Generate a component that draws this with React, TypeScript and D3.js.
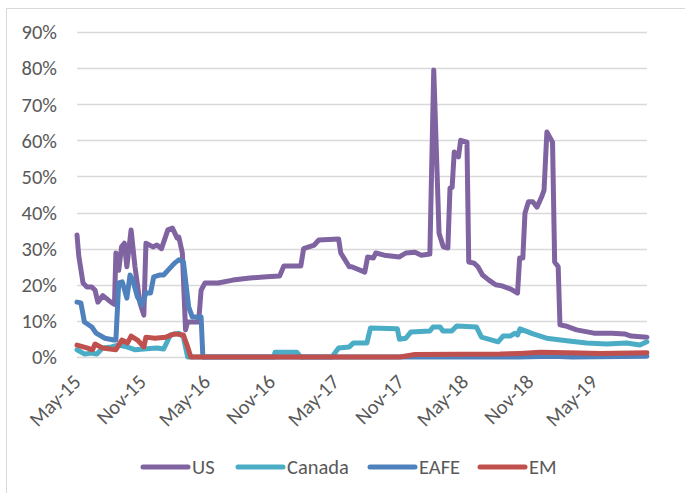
import React from "react";
import * as d3 from "d3";

const usDates = ["2015-05-01","2015-05-06","2015-05-18","2015-05-29","2015-06-12","2015-06-21","2015-06-29","2015-07-13","2015-07-22","2015-08-05","2015-08-15","2015-08-19","2015-08-27","2015-09-04","2015-09-12","2015-09-19","2015-10-01","2015-10-12","2015-10-26","2015-11-06","2015-11-12","2015-12-02","2015-12-13","2015-12-26","2016-01-13","2016-01-26","2016-02-08","2016-02-13","2016-02-23","2016-03-03","2016-03-09","2016-04-09","2016-04-16","2016-04-27","2016-06-03","2016-07-15","2016-09-01","2016-10-19","2016-11-24","2016-12-06","2017-01-23","2017-01-31","2017-03-02","2017-03-15","2017-05-10","2017-05-16","2017-06-09","2017-06-16","2017-07-23","2017-07-31","2017-08-16","2017-08-23","2017-09-16","2017-10-29","2017-11-16","2017-12-12","2017-12-30","2018-01-23","2018-02-03","2018-02-18","2018-03-02","2018-03-15","2018-03-21","2018-03-27","2018-04-02","2018-04-14","2018-04-20","2018-05-08","2018-05-13","2018-05-28","2018-06-08","2018-06-21","2018-07-09","2018-07-28","2018-08-15","2018-09-09","2018-09-28","2018-10-04","2018-10-13","2018-10-19","2018-10-29","2018-11-10","2018-11-22","2018-12-05","2018-12-12","2018-12-20","2019-01-05","2019-01-11","2019-01-21","2019-01-26","2019-02-11","2019-03-14","2019-05-02","2019-06-21","2019-07-28","2019-08-15","2019-09-29"];
const usValues = [33.8,28,20.5,19.4,19.4,18.5,15.2,17,16.3,15.2,14.6,28.8,24,30.5,31.5,25,35.2,25,15,11.6,31.5,30.5,31,30,35.2,35.7,33,33.2,28.8,7.5,9.7,9.7,18.5,20.5,20.5,21.3,21.9,22.2,22.4,25.2,25.2,30,31,32.4,32.7,28.8,25,25,23.5,27.7,27.4,28.8,28.2,27.7,28.8,29,28.2,28.5,79.5,34.3,30.5,30.2,46.8,47,56.8,55.4,60,59.5,26.3,26,25,22.7,21.3,20,19.7,18.8,17.7,27.4,27.4,39.8,43,43,41.5,44.3,46.2,62.3,59.5,26.3,25,8.9,8.6,7.5,6.6,6.6,6.4,5.8,5.5];

const canadaDates = ["2015-05-01","2015-05-23","2015-06-11","2015-06-26","2015-07-12","2015-08-06","2015-08-25","2015-09-19","2015-10-13","2015-11-06","2015-12-13","2016-01-01","2016-01-20","2016-02-13","2016-02-26","2016-03-09","2016-11-08","2016-11-11","2017-01-12","2017-01-23","2017-04-21","2017-05-10","2017-06-09","2017-06-21","2017-07-29","2017-08-08","2017-10-23","2017-10-29","2017-11-16","2017-11-30","2018-01-23","2018-02-01","2018-02-21","2018-03-01","2018-03-26","2018-04-09","2018-06-04","2018-06-18","2018-08-04","2018-08-18","2018-09-07","2018-09-21","2018-09-28","2018-10-05","2018-11-11","2018-12-19","2019-02-14","2019-04-11","2019-06-07","2019-08-02","2019-09-09","2019-09-29"];
const canadaValues = [2,0.8,1.1,0.8,2.5,2.8,3.3,2.8,2,2.2,2.5,2.2,6.1,6.6,5.5,0,0,1.3,1.3,0,0,2.5,2.8,3.9,3.9,8,7.8,4.9,5.2,6.9,7.2,8.3,8.3,7.2,7.2,8.6,8.3,5.5,4.2,5.8,5.8,6.6,6.1,7.8,6.4,5.2,4.5,3.9,3.6,3.9,3.3,4.2];

const eafeDates = ["2015-05-01","2015-05-12","2015-05-22","2015-06-12","2015-06-24","2015-07-19","2015-08-13","2015-08-19","2015-08-27","2015-09-06","2015-09-19","2015-09-28","2015-10-06","2015-10-19","2015-11-01","2015-11-12","2015-11-25","2015-12-04","2015-12-20","2016-01-01","2016-01-13","2016-02-01","2016-02-13","2016-02-26","2016-03-12","2016-03-22","2016-04-16","2016-04-21","2018-10-01","2019-01-05","2019-03-01","2019-09-29"];
const eafeValues = [15.2,15,9.7,8.3,6.6,5.2,4.7,4.7,20.5,20.8,16.3,22.7,21.3,16.6,14.4,17.7,17.7,22.2,22.7,22.7,24,26,26.9,26.3,13.8,11.1,11.1,0,0,0.2,0,0.2];

const emDates = ["2015-05-01","2015-05-29","2015-06-14","2015-06-21","2015-07-12","2015-08-19","2015-09-05","2015-09-21","2015-10-01","2015-10-19","2015-11-06","2015-11-12","2015-12-07","2016-01-07","2016-02-01","2016-02-26","2016-03-09","2016-03-18","2017-10-30","2017-12-12","2018-08-10","2018-10-05","2018-12-01","2019-03-24","2019-05-19","2019-09-29"];
const emValues = [3.3,2.5,2,3.6,2.5,2,4.7,3.9,5.8,4.7,2.8,5.5,5.2,5.5,6.4,6.1,2.8,0,0,0.7,0.8,1.0,1.3,1.1,1.0,1.2];

const seriesNames = ["US", "Canada", "EAFE", "EM"];
const seriesColors = ["#8064A2", "#4BACC6", "#4F81BD", "#C0504D"];
const yTicks = [0, 10, 20, 30, 40, 50, 60, 70, 80, 90];
const xTickDates = ["2015-05-01","2015-11-01","2016-05-01","2016-11-01","2017-05-01","2017-11-01","2018-05-01","2018-11-01","2019-05-01"];
const xTickLabels = ["May-15","Nov-15","May-16","Nov-16","May-17","Nov-17","May-18","Nov-18","May-19"];

const parse = d3.timeParse("%Y-%m-%d");
const FONT = "Carlito, Calibri, Lato, sans-serif";
const TEXT = "#595959";
const FS = 20.5;

export default function App() {
  const W = 685, H = 493;
  const x = d3.scaleTime().domain([parse("2015-05-01")!, parse("2019-11-01")!]).range([77, 658.6]);
  const y = d3.scaleLinear().domain([0, 90]).range([357, 32]);
  const xEnd = x(parse(usDates[usDates.length - 1])!);
  const all = [
    { dates: usDates, values: usValues },
    { dates: canadaDates, values: canadaValues },
    { dates: eafeDates, values: eafeValues },
    { dates: emDates, values: emValues },
  ];
  const line = d3.line<[Date, number]>().x(d => x(d[0])).y(d => y(d[1]));
  const legendX = [143, 238, 370, 480];
  return (
    <svg width={W} height={H} style={{ position: "absolute", left: 0, top: 0, background: "#fff" }} fontFamily={FONT}>
      <rect x={0} y={0} width={W} height={H} fill="#fff" />
      <rect x={6.5} y={8.5} width={W + 10} height={H + 10} fill="none" stroke="#D9D9D9" strokeWidth={1} />
      {yTicks.map(t => (
        <g key={t}>
          <line x1={77} x2={xEnd} y1={Math.round(y(t)) + 0.5} y2={Math.round(y(t)) + 0.5} stroke="#D9D9D9" strokeWidth={1.5} />
          <text x={57} y={y(t)} dy="0.36em" textAnchor="end" fontSize={FS} fill={TEXT}>{t}%</text>
        </g>
      ))}
      {all.map((s, i) => (
        <path key={i} d={line(s.dates.map((d, j) => [parse(d)!, s.values[j]] as [Date, number])) || ""}
          fill="none" stroke={seriesColors[i]} strokeWidth={5} strokeLinejoin="round" strokeLinecap="round" />
      ))}
      {xTickDates.map((d, i) => {
        const px = x(parse(d)!);
        return (
          <text key={d} transform={`translate(${px},378) rotate(-45)`} textAnchor="end" dy="0.36em" fontSize={FS} fill={TEXT}>{xTickLabels[i]}</text>
        );
      })}
      {seriesNames.map((n, i) => (
        <g key={n}>
          <line x1={legendX[i]} x2={legendX[i] + 45} y1={467} y2={467} stroke={seriesColors[i]} strokeWidth={5} strokeLinecap="round" />
          <text x={legendX[i] + 49} y={467} dy="0.36em" fontSize={FS} fill={TEXT}>{n}</text>
        </g>
      ))}
    </svg>
  );
}
